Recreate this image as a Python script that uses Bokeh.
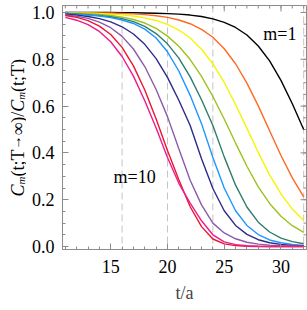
import math
from bokeh.plotting import figure
from bokeh.layouts import row
from bokeh.models import Range1d, FixedTicker, Span, Label, PrintfTickFormatter
from bokeh.embed import file_html
from bokeh.resources import INLINE

# ---- data ----
t = [11, 12, 13, 14, 15, 16, 17, 18, 19, 20, 21, 22, 23, 24, 25, 26, 27, 28, 29, 30, 31, 32]
m1 = [1.000, 1.000, 1.000, 1.000, 1.000, 0.999, 0.999, 0.998, 0.997, 0.995, 0.993, 0.989, 0.983, 0.973, 0.958, 0.936, 0.904, 0.857, 0.793, 0.710, 0.610, 0.500]
m2 = [1.000, 0.999, 0.999, 0.998, 0.998, 0.996, 0.994, 0.991, 0.986, 0.979, 0.968, 0.952, 0.928, 0.894, 0.845, 0.781, 0.698, 0.601, 0.495, 0.389, 0.293, 0.212]
m3 = [0.999, 0.998, 0.997, 0.996, 0.993, 0.990, 0.985, 0.977, 0.966, 0.949, 0.925, 0.891, 0.843, 0.780, 0.701, 0.607, 0.505, 0.402, 0.306, 0.225, 0.160, 0.111]
m4 = [0.998, 0.997, 0.995, 0.992, 0.987, 0.980, 0.970, 0.955, 0.932, 0.899, 0.856, 0.799, 0.727, 0.641, 0.545, 0.442, 0.343, 0.255, 0.184, 0.129, 0.089, 0.060]
m5 = [0.996, 0.994, 0.991, 0.987, 0.982, 0.974, 0.961, 0.941, 0.910, 0.866, 0.805, 0.725, 0.627, 0.517, 0.383, 0.262, 0.169, 0.104, 0.062, 0.036, 0.021, 0.012]
m6 = [0.995, 0.993, 0.989, 0.985, 0.978, 0.968, 0.953, 0.929, 0.891, 0.832, 0.750, 0.646, 0.525, 0.380, 0.250, 0.153, 0.090, 0.051, 0.028, 0.016, 0.009, 0.005]
m7 = [0.993, 0.989, 0.983, 0.974, 0.960, 0.939, 0.908, 0.864, 0.803, 0.723, 0.625, 0.517, 0.375, 0.248, 0.153, 0.090, 0.052, 0.029, 0.016, 0.009, 0.005, 0.003]
m8 = [0.990, 0.984, 0.975, 0.959, 0.935, 0.898, 0.844, 0.769, 0.671, 0.555, 0.418, 0.283, 0.178, 0.100, 0.058, 0.033, 0.018, 0.010, 0.006, 0.003, 0.002, 0.001]
m9 = [0.987, 0.979, 0.965, 0.942, 0.906, 0.851, 0.772, 0.669, 0.545, 0.410, 0.285, 0.170, 0.085, 0.032, 0.011, 0.004, 0.001, 0.000, 0.000, 0.000, 0.000, 0.000]
m10 = [0.979, 0.967, 0.948, 0.919, 0.875, 0.812, 0.728, 0.623, 0.506, 0.380, 0.270, 0.185, 0.110, 0.050, 0.020, 0.008, 0.003, 0.001, 0.000, 0.000, 0.000, 0.000]

series = [m1, m2, m3, m4, m5, m6, m7, m8, m9, m10]
colors = ["#000000", "#ff6a1e", "#f5f500", "#9cc31c", "#2e7d6b", "#1e96ff",
          "#2e2a8a", "#8c5aaa", "#ec1530", "#ee1a8c"]

dash_t = [16, 20, 24, 32]
x_major = [15, 20, 25, 30]
x_minor = list(range(11, 33))
y_major = [0.0, 0.2, 0.4, 0.6, 0.8, 1.0]
y_minor = [round(0.05 * i, 2) for i in range(0, 21)]

FONT = "Liberation Serif"
AX = "#8c8c8c"

xr = Range1d(10.75, 32.25)
yr = Range1d(-0.0128, 1.0299)

p = figure(frame_width=244, frame_height=244, x_range=xr, y_range=yr,
           output_backend="svg", toolbar_location=None,
           min_border_left=36, min_border_right=1, min_border_top=5, min_border_bottom=61)
p.background_fill_color = "white"
p.border_fill_color = "white"
p.outline_line_color = AX
p.xgrid.visible = False
p.ygrid.visible = False

xb = p.below[0]
yl = p.left[0]
xb.ticker = FixedTicker(ticks=x_major, minor_ticks=x_minor)
yl.ticker = FixedTicker(ticks=y_major, minor_ticks=y_minor)
yl.formatter = PrintfTickFormatter(format="%.1f")
for ax in (xb, yl):
    ax.axis_line_color = AX
    ax.major_tick_line_color = AX
    ax.minor_tick_line_color = AX
    ax.major_tick_in = 6
    ax.major_tick_out = 0
    ax.minor_tick_in = 3
    ax.minor_tick_out = 0
    ax.major_label_text_font = FONT
    ax.major_label_text_font_size = "18px"
    ax.major_label_text_color = "black"
xb.major_label_standoff = 10
yl.major_label_standoff = 8
xb.axis_label = "t/a"
xb.axis_label_text_font = FONT
xb.axis_label_text_font_style = "normal"
xb.axis_label_text_font_size = "18px"
xb.axis_label_standoff = 7

# frame ticks on the top and right edges (same tick lists, pointing inward)
p.ray(x=x_major, y=[yr.end] * len(x_major), length=6, angle=-math.pi / 2,
      length_units="screen", line_color=AX, line_width=1)
p.ray(x=x_minor, y=[yr.end] * len(x_minor), length=3, angle=-math.pi / 2,
      length_units="screen", line_color=AX, line_width=1)
p.ray(x=[xr.end] * len(y_major), y=y_major, length=6, angle=math.pi,
      length_units="screen", line_color=AX, line_width=1)
p.ray(x=[xr.end] * len(y_minor), y=y_minor, length=3, angle=math.pi,
      length_units="screen", line_color=AX, line_width=1)

for tv in dash_t:
    p.add_layout(Span(location=tv, dimension="height", line_color="#c4c4c4",
                      line_width=1, line_dash="7 4", level="underlay"))

for ys, c in zip(series, colors):
    p.line(t, ys, line_color=c, line_width=1.4)

p.add_layout(Label(x=29.9, y=0.906, text="m=1", text_align="center", text_baseline="middle",
                   text_font=FONT, text_font_size="18px", text_color="black"))
p.add_layout(Label(x=17.1, y=0.295, text="m=10", text_align="center", text_baseline="middle",
                   text_font=FONT, text_font_size="18px", text_color="black"))

# narrow side figure carrying the y-axis title, built from rotated pieces
q = figure(width=26, height=310, x_range=Range1d(0, 1), y_range=Range1d(0, 1),
           x_axis_type=None, y_axis_type=None, min_border=0,
           output_backend="svg", toolbar_location=None)
q.outline_line_color = None
q.xgrid.visible = False
q.ygrid.visible = False
# (text, style, size, baseline x, advance along the title)
pieces = [("C", "italic", "18px", 17.0, 12.0),
          ("m", "italic", "11px", 20.5, 7.9),
          ("(t;T", "normal", "18px", 17.0, 27.0),
          ("\u2192", "normal", "14px", 16.0, 14.0),
          ("\u221e)/", "normal", "18px", 17.0, 23.8),
          ("C", "italic", "18px", 17.0, 12.0),
          ("m", "italic", "11px", 20.5, 7.9),
          ("(t;T)", "normal", "18px", 17.0, 33.0)]
ypos = 53.0
for txt, style, size, xs, w in pieces:
    q.add_layout(Label(x=xs, y=ypos, x_units="screen", y_units="screen", text=txt,
                       angle=math.pi / 2, text_align="left", text_baseline="alphabetic",
                       text_font=FONT, text_font_style=style, text_font_size=size,
                       text_color="black"))
    ypos += w

layout = row(q, p)
open("out.html", "w").write(file_html(layout, INLINE))
